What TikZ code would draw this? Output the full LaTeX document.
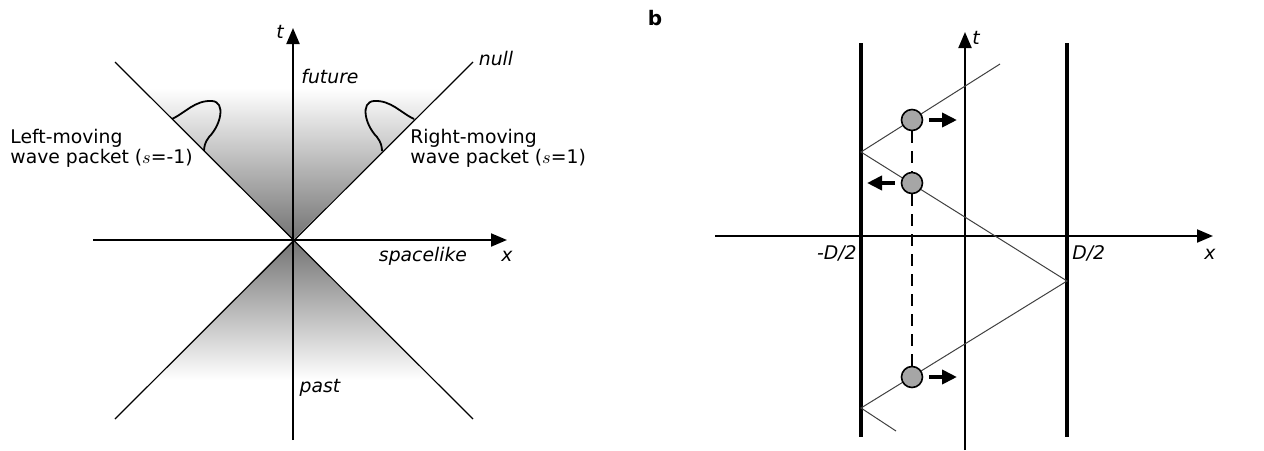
\documentclass[tikz,border=0pt]{standalone}
\usepackage{fontspec}
\setmainfont{DejaVu Sans}
\usetikzlibrary{arrows.meta}

\begin{document}
\begin{tikzpicture}[x=0.5pt,y=-0.5pt,
  >={Triangle[length=8pt,width=6.5pt]},
  lab/.style={font=\fontsize{9.4}{10}\selectfont,inner sep=0pt},
  ilab/.style={lab,font=\fontsize{9.4}{10}\selectfont\itshape},
  cone/.style={line width=0.6pt},
  axis/.style={line width=1pt,->},
  wall/.style={line width=1.8pt},
  ray/.style={line width=0.5pt,black!75},
  ball/.style={circle,draw,fill=black!35,line width=0.8pt,minimum size=10.5pt,inner sep=0pt},
  move/.style={line width=2.4pt,-{Triangle[length=7.5pt,width=7pt]}}]
\useasboundingbox (0,0) rectangle (1264,450);
% light cone
\coordinate (o) at (293,240);
\coordinate (ul) at (115,62);
\coordinate (ur) at (473,62);
\coordinate (ll) at (115,419);
\coordinate (lr) at (473,419);
\begin{scope}
\clip (o) -- (ul) -- (ur) -- cycle;
\shade[top color=white,bottom color=black!55] (115,88) rectangle (473,240);
\end{scope}
\begin{scope}
\clip (o) -- (ll) -- (lr) -- cycle;
\shade[top color=black!55,bottom color=white] (115,240) rectangle (473,380);
\end{scope}
\draw[cone] (ul) -- (lr);
\draw[cone] (ur) -- (ll);
% wave packets
\draw[line width=0.9pt] (172,119) .. controls (185,113) and (195,100) .. (212,101)
  .. controls (226,102) and (221,125) .. (209,137) .. controls (205,142) and (204,147) .. (204,151);
\draw[line width=0.9pt] (414,119) .. controls (401,113) and (391,100) .. (374,101)
  .. controls (360,102) and (365,125) .. (377,137) .. controls (381,142) and (382,147) .. (382,151);
% axes
\coordinate (xl) at (93,240);
\coordinate (xr) at (507,240);
\coordinate (tb) at (293,440);
\coordinate (tt) at (293,28);
\draw[axis] (xl) -- (xr);
\draw[axis] (tb) -- (tt);
\node[ilab] (tlab) at (280,32) {t};
\node[ilab] (xlab) at (507,256) {x};
\node[ilab] (fut) at (330,76) {future};
\node[ilab] (nl) at (496,58) {null};
\node[ilab] (spl) at (423,256) {spacelike};
\node[ilab] (past) at (320,388) {past};
\node[lab,align=left,anchor=west] (lm) at (10,148) {Left-moving\\wave packet ($s$=-1)};
\node[lab,align=left,anchor=west] (rm) at (410,148) {Right-moving\\wave packet ($s$=1)};

% box with walls
\node[font=\fontsize{10}{12}\selectfont\bfseries,inner sep=0pt] (b) at (655,18) {b};
\coordinate (xl2) at (715,236);
\coordinate (xr2) at (1213,236);
\coordinate (tb2) at (965,450);
\coordinate (tt2) at (965,32);
\draw[axis] (xl2) -- (xr2);
\draw[axis] (tb2) -- (tt2);
\coordinate (wl0) at (861,43);
\coordinate (wl1) at (861,437);
\coordinate (wr0) at (1067,43);
\coordinate (wr1) at (1067,437);
\draw[wall] (wl0) -- (wl1);
\draw[wall] (wr0) -- (wr1);
\node[ilab,anchor=east] (dm) at (857,253) {-D/2};
\node[ilab,anchor=west] (dp) at (1072,253) {D/2};
\node[ilab] (xlab2) at (1210,254) {x};
\node[ilab] (tlab2) at (976,38) {t};
\coordinate (z0) at (1000,64);
\coordinate (z1) at (861,152);
\coordinate (z2) at (1067,281);
\coordinate (z3) at (861,408);
\coordinate (z4) at (896,431);
\draw[ray] (z0) -- (z1) -- (z2) -- (z3) -- (z4);
\node[ball] (p1) at (912,120) {};
\node[ball] (p2) at (912,183) {};
\node[ball] (p3) at (912,377) {};
\draw[line width=0.9pt,dash pattern=on 6pt off 4pt] (p1) -- (p2);
\draw[line width=0.9pt,dash pattern=on 6pt off 4pt] (p2) -- (p3);
\coordinate (m1) at (957,120);
\coordinate (m2) at (867,183);
\coordinate (m3) at (957,377);
\draw[move] ([xshift=3pt]p1.east) -- (m1);
\draw[move] ([xshift=-3pt]p2.west) -- (m2);
\draw[move] ([xshift=3pt]p3.east) -- (m3);
\end{tikzpicture}
\end{document}
